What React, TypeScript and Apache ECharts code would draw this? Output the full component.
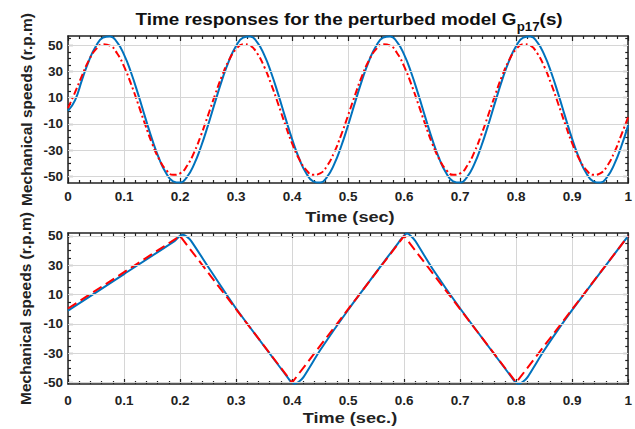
import React, { useEffect, useRef } from "react";
import * as echarts from "echarts";

// ---------- data ----------
// Top panel: sampled every 0.0125 s from 0 to 1 s
const topTime: number[] = Array.from({ length: 81 }, (_, i) => +(i * 0.0125).toFixed(4));
const topBlue: number[] = [
  0, 8, 23.6, 38.3, 49.4, 55.7, 56.7, 52.3, 42.8, 29.2, 12.9, -4.6, -21.6, -36.3, -47.4, -53.7, -54.7, -50.3, -40.8, -27.2,
  -10.9, 6.6, 23.6, 38.3, 49.4, 55.7, 56.7, 52.3, 42.8, 29.2, 12.9, -4.6, -21.6, -36.3, -47.4, -53.7, -54.7, -50.3, -40.8, -27.2,
  -10.9, 6.6, 23.6, 38.3, 49.4, 55.7, 56.7, 52.3, 42.8, 29.2, 12.9, -4.6, -21.6, -36.3, -47.4, -53.7, -54.7, -50.3, -40.8, -27.2,
  -10.9, 6.6, 23.6, 38.3, 49.4, 55.7, 56.7, 52.3, 42.8, 29.2, 12.9, -4.6, -21.6, -36.3, -47.4, -53.7, -54.7, -50.3, -40.8, -27.2,
  -10.9,
];
const topRed: number[] = [
  2, 14, 26.8, 38.7, 47.0, 50.8, 49.7, 43.9, 33.8, 20.5, 5.4, -10.2, -24.8, -36.7, -45.0, -48.8, -47.7, -41.9, -31.8, -18.5,
  -3.4, 12.2, 26.8, 38.7, 47.0, 50.8, 49.7, 43.9, 33.8, 20.5, 5.4, -10.2, -24.8, -36.7, -45.0, -48.8, -47.7, -41.9, -31.8, -18.5,
  -3.4, 12.2, 26.8, 38.7, 47.0, 50.8, 49.7, 43.9, 33.8, 20.5, 5.4, -10.2, -24.8, -36.7, -45.0, -48.8, -47.7, -41.9, -31.8, -18.5,
  -3.4, 12.2, 26.8, 38.7, 47.0, 50.8, 49.7, 43.9, 33.8, 20.5, 5.4, -10.2, -24.8, -36.7, -45.0, -48.8, -47.7, -41.9, -31.8, -18.5,
  -4.5,
];

// Bottom panel
const botBlueTime: number[] = [
  0, 0.1, 0.19, 0.198, 0.205, 0.212, 0.22, 0.25, 0.3, 0.39, 0.398, 0.405, 0.412, 0.42, 0.45, 0.5,
  0.59, 0.598, 0.605, 0.612, 0.62, 0.65, 0.7, 0.79, 0.798, 0.805, 0.812, 0.82, 0.85, 0.9, 1.0,
];
const botBlue: number[] = [
  -1, 24, 46.5, 49.5, 50.8, 49.5, 46.5, 29, 0.5, -45.5, -49.5, -50.8, -49.5, -46.5, -28, -0.5,
  45.5, 49.5, 51.6, 50, 46.5, 28, 0.5, -45.5, -49.5, -50.8, -49.5, -46.5, -28, -0.5, 50,
];
const botRedTime: number[] = [0, 0.2, 0.4, 0.6, 0.8, 1.0];
const botRed: number[] = [0.5, 50, -50, 50, -50, 50];

// axes
const xMin = 0, xMax = 1, xStep = 0.1;
const yTickLabels: number[] = [-50, -30, -10, 10, 30, 50];
const yMinorTicks: number[] = [-55, -45, -40, -35, -25, -20, -15, -5, 0, 5, 15, 20, 25, 35, 40, 45, 55];
const topYRange: number[] = [-55, 57];
const botYRange: number[] = [-51, 52];

const TITLE_MAIN = "Time responses for the perturbed model G";
const TITLE_SUB = "p17";
const TITLE_END = "(s)";
const Y_NAME = "Mechanical speeds (r.p.m)";
const X_NAME_TOP = "Time (sec)";
const X_NAME_BOT = "Time (sec.)";

const FONT = "'Liberation Sans', Arial, Helvetica, sans-serif";
const INK = "#222222";
const BLUE = "#0072BD";
const RED = "#FF0000";
const GRIDLINE = "#d6d6d6";

const frameLine = { show: true, onZero: false, lineStyle: { color: INK, width: 1.5 } };
const tickStyle = { color: INK, width: 1.2 };
const labelText = { color: INK, fontWeight: "bold" as const, fontSize: 13.5, fontFamily: FONT };

function xAxesFor(gridIndex: number, margin: number) {
  return [
    {
      type: "value", gridIndex, position: "bottom", min: xMin, max: xMax, interval: xStep,
      axisLine: frameLine,
      axisTick: { show: true, inside: true, length: 5, lineStyle: tickStyle },
      minorTick: { show: true, splitNumber: 5, length: 3, lineStyle: tickStyle },
      splitLine: { show: true, lineStyle: { color: GRIDLINE, width: 1 } },
      axisLabel: { ...labelText, margin, showMinLabel: true, showMaxLabel: true },
    },
    {
      type: "value", gridIndex, position: "top", min: xMin, max: xMax, interval: xStep,
      axisLine: frameLine,
      axisTick: { show: true, inside: true, length: 5, lineStyle: tickStyle },
      minorTick: { show: true, splitNumber: 5, length: 3, lineStyle: tickStyle },
      splitLine: { show: false },
      axisLabel: { show: false },
    },
  ];
}

function yAxesFor(gridIndex: number, range: number[]) {
  const [min, max] = range;
  const minors = yMinorTicks.filter((v) => v > min && v < max);
  const base = { type: "value", gridIndex, min, max, splitLine: { show: false }, minorTick: { show: false } };
  return [
    {
      ...base, position: "left",
      axisLine: frameLine,
      axisTick: { show: true, inside: true, length: 5, lineStyle: tickStyle, customValues: yTickLabels },
      axisLabel: { ...labelText, margin: 5, customValues: yTickLabels },
    },
    {
      ...base, position: "left", offset: 0,
      axisLine: { show: false, onZero: false },
      axisTick: { show: true, inside: true, length: 3, lineStyle: tickStyle, customValues: minors },
      axisLabel: { show: false },
    },
    {
      ...base, position: "right",
      axisLine: frameLine,
      axisTick: { show: true, inside: true, length: 5, lineStyle: tickStyle, customValues: yTickLabels },
      axisLabel: { show: false },
    },
    {
      ...base, position: "right", offset: 0,
      axisLine: { show: false, onZero: false },
      axisTick: { show: true, inside: true, length: 3, lineStyle: tickStyle, customValues: minors },
      axisLabel: { show: false },
    },
  ];
}

const pairs = (ts: number[], vs: number[]) => ts.map((t, i) => [t, vs[i]]);

function gridLineSeries(xAxisIndex: number, yAxisIndex: number) {
  return {
    type: "line", xAxisIndex, yAxisIndex, data: [], z: 1, silent: true,
    markLine: {
      silent: true, symbol: ["none", "none"], animation: false,
      label: { show: false },
      emphasis: { disabled: true },
      lineStyle: { color: GRIDLINE, width: 1, type: "solid" },
      data: yTickLabels.map((v) => ({ yAxis: v })),
    },
  };
}

export default function App() {
  const ref = useRef<HTMLDivElement>(null);

  useEffect(() => {
    if (!ref.current) return;
    const chart = echarts.init(ref.current, undefined, { renderer: "svg" });
    const option: any = {
      animation: false,
      backgroundColor: "#ffffff",
      grid: [
        { left: 68, top: 36, width: 565, height: 147 },
        { left: 68, top: 233, width: 565, height: 151 },
      ],
      xAxis: [...xAxesFor(0, 6), ...xAxesFor(1, 9)],
      yAxis: [...yAxesFor(0, topYRange), ...yAxesFor(1, botYRange)],
      series: [
        gridLineSeries(0, 0),
        gridLineSeries(2, 4),
        {
          type: "line", xAxisIndex: 0, yAxisIndex: 0, data: pairs(topTime, topBlue),
          smooth: true, showSymbol: false, symbol: "none", z: 3,
          lineStyle: { color: BLUE, width: 2 },
        },
        {
          type: "line", xAxisIndex: 0, yAxisIndex: 0, data: pairs(topTime, topRed),
          smooth: true, showSymbol: false, symbol: "none", z: 4,
          lineStyle: { color: RED, width: 2, type: [7, 3, 2, 3] },
        },
        {
          type: "line", xAxisIndex: 2, yAxisIndex: 4, data: pairs(botBlueTime, botBlue),
          smooth: 0.2, showSymbol: false, symbol: "none", z: 3,
          lineStyle: { color: BLUE, width: 2 },
        },
        {
          type: "line", xAxisIndex: 2, yAxisIndex: 4, data: pairs(botRedTime, botRed),
          showSymbol: false, symbol: "none", z: 4,
          lineStyle: { color: RED, width: 2, type: [10, 5] },
        },
      ],
      graphic: [
        {
          type: "text", x: 349, y: 19, scaleX: 1.11, z: 10,
          style: {
            text: `{a|${TITLE_MAIN}}{b|${TITLE_SUB}}{a|${TITLE_END}}`,
            align: "center", verticalAlign: "middle",
            rich: {
              a: { fontSize: 17, fontWeight: "bold", fontFamily: FONT, fill: "#111" },
              b: { fontSize: 12, fontWeight: "bold", fontFamily: FONT, fill: "#111", padding: [16, 0, 0, 0] },
            },
          },
        },
        {
          type: "text", x: 350, y: 217, scaleX: 1.17, z: 10,
          style: { text: X_NAME_TOP, align: "center", verticalAlign: "middle", fontSize: 15.5, fontWeight: "bold", fontFamily: FONT, fill: INK },
        },
        {
          type: "text", x: 350, y: 418, scaleX: 1.17, z: 10,
          style: { text: X_NAME_BOT, align: "center", verticalAlign: "middle", fontSize: 15.5, fontWeight: "bold", fontFamily: FONT, fill: INK },
        },
        {
          type: "text", x: 26, y: 109.5, rotation: Math.PI / 2, z: 10,
          style: { text: Y_NAME, align: "center", verticalAlign: "middle", fontSize: 15.5, fontWeight: "bold", fontFamily: FONT, fill: INK },
        },
        {
          type: "text", x: 25, y: 308.5, rotation: Math.PI / 2, z: 10,
          style: { text: Y_NAME, align: "center", verticalAlign: "middle", fontSize: 15.5, fontWeight: "bold", fontFamily: FONT, fill: INK },
        },
      ],
    };
    chart.setOption(option);
    return () => chart.dispose();
  }, []);

  return (
    <div
      ref={ref}
      style={{ position: "absolute", left: 0, top: 0, width: 635, height: 429, background: "#fff" }}
    />
  );
}
